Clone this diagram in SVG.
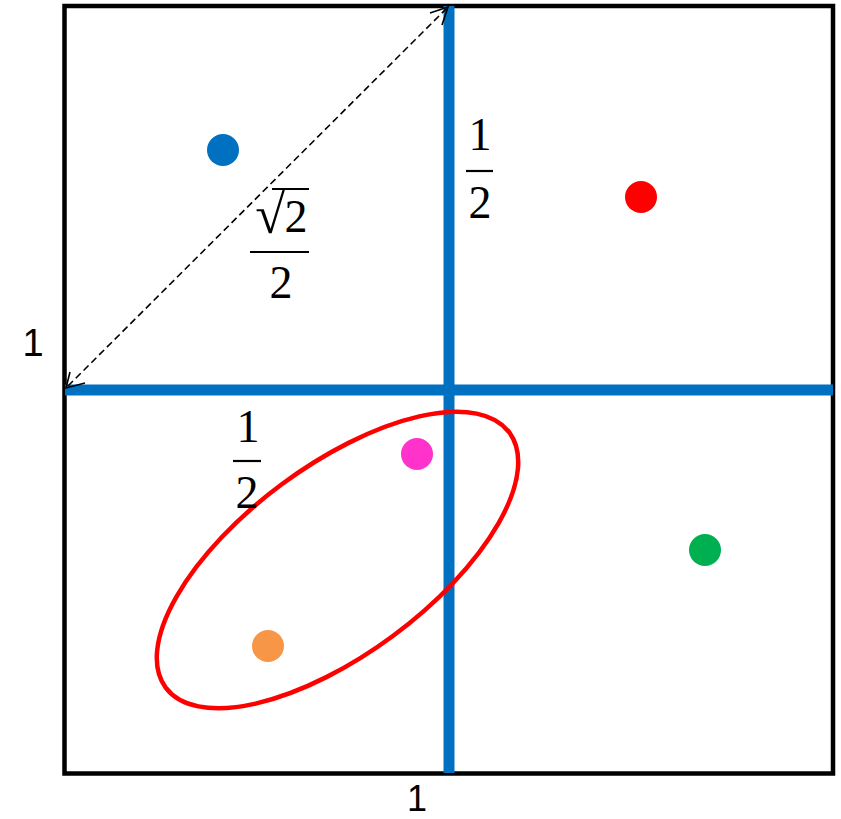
<svg xmlns="http://www.w3.org/2000/svg" width="841" height="819" viewBox="0 0 841 819">
<style>
.lbl{font-family:"Liberation Sans",Arial,sans-serif;font-size:38px;fill:#000;text-anchor:middle}
.m{font-family:"Liberation Serif","Times New Roman",serif;font-size:46px;fill:#000;text-anchor:middle}
.bar{stroke:#000;stroke-width:2.2}
.axis{stroke:#0070C0;stroke-width:11}
.dash{stroke:#000;stroke-width:1.6;stroke-dasharray:7 4;fill:none}
.head{stroke:#000;stroke-width:1.6;fill:none}
</style>
<rect width="841" height="819" fill="#fff"/>
<g id="frame"><rect x="64.5" y="6" width="768.5" height="767.5" fill="none" stroke="#000" stroke-width="4.5"/></g>
<g id="connectors">
<line class="axis" x1="449" y1="6" x2="449" y2="773"/>
<line class="axis" x1="65" y1="390" x2="833" y2="390"/>
<line class="dash" x1="68" y1="386" x2="446" y2="9"/>
<polyline class="head" points="430,13 448,7 442,25"/>
<polyline class="head" points="85,383 66,388 70,372"/>
</g>
<g id="ellipse"><ellipse cx="337.5" cy="560" rx="214" ry="94" transform="rotate(-36.6 337.5 560)" fill="none" stroke="#FF0000" stroke-width="4.5"/></g>
<g id="dot-blue"><circle cx="223" cy="150" r="16" fill="#0070C0"/></g>
<g id="dot-red"><circle cx="641" cy="197" r="16" fill="#FF0000"/></g>
<g id="dot-magenta"><circle cx="417" cy="454" r="16" fill="#FF33CC"/></g>
<g id="dot-green"><circle cx="705" cy="550" r="16" fill="#00B050"/></g>
<g id="dot-orange"><circle cx="268" cy="646" r="16" fill="#F79646"/></g>
<g id="label-left"><text class="lbl" x="33" y="356">1</text></g>
<g id="label-bottom"><text class="lbl" x="417" y="811" style="font-size:36px">1</text></g>
<g id="frac-top">
<text class="m" x="480" y="150">1</text>
<line class="bar" x1="466" y1="171" x2="493" y2="171"/>
<text class="m" x="480" y="218">2</text>
</g>
<g id="frac-low">
<text class="m" x="248" y="442">1</text>
<line class="bar" x1="233" y1="461" x2="261" y2="461"/>
<text class="m" x="247" y="508">2</text>
</g>
<g id="frac-sqrt">
<text class="m" x="285" y="233" style="text-anchor:end;font-size:54px">√</text>
<text class="m" x="296" y="232">2</text>
<line x1="272" y1="189" x2="309" y2="189" stroke="#000" stroke-width="2"/>
<line class="bar" x1="250" y1="252" x2="309" y2="252"/>
<text class="m" x="281" y="298">2</text>
</g>
</svg>
